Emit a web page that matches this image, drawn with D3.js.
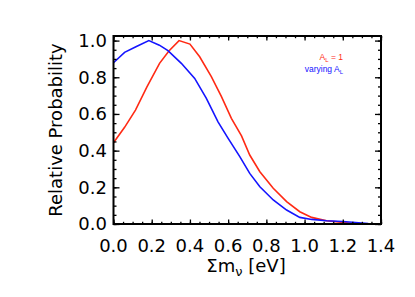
<!DOCTYPE html>
<html>
<head>
<meta charset="utf-8">
<script src="https://cdn.jsdelivr.net/npm/d3@7"></script>
<style>
  body { margin: 0; background: #fff; }
  text { font-family: "DejaVu Sans", sans-serif; fill: #000; }
  .legend { font-family: "Liberation Sans", sans-serif; }
</style>
</head>
<body>
<div id="chart"></div>
<script>
/* data */
var massRed  = [0.0, 0.058, 0.115, 0.175, 0.241, 0.29, 0.343, 0.4, 0.451, 0.512, 0.565, 0.617, 0.67, 0.713, 0.766, 0.836, 0.906, 0.975, 1.037, 1.115, 1.2, 1.27];
var probRed  = [0.443, 0.527, 0.621, 0.748, 0.876, 0.943, 1.0, 0.981, 0.912, 0.803, 0.694, 0.576, 0.48, 0.376, 0.285, 0.195, 0.122, 0.067, 0.036, 0.018, 0.009, 0.0];
var massBlue = [0.0, 0.058, 0.12, 0.185, 0.24, 0.285, 0.355, 0.425, 0.486, 0.547, 0.6, 0.661, 0.713, 0.766, 0.836, 0.906, 0.975, 1.037, 1.115, 1.2, 1.333];
var probBlue = [0.879, 0.936, 0.968, 1.0, 0.975, 0.945, 0.876, 0.794, 0.685, 0.557, 0.467, 0.367, 0.276, 0.203, 0.131, 0.076, 0.036, 0.025, 0.018, 0.014, 0.003];
var xTicks = [0, 0.2, 0.4, 0.6, 0.8, 1.0, 1.2, 1.4];
var yTicks = [0, 0.2, 0.4, 0.6, 0.8, 1.0];

/* constants */
var width = 415, height = 297;
var boxLeft = 113.5, boxRight = 381, boxTop = 36, boxBottom = 224;

var svg = d3.select("#chart").append("svg")
    .attr("width", width)
    .attr("height", height);

var x = d3.scaleLinear().domain([0, 1.4]).range([boxLeft, boxRight]);
var y = d3.scaleLinear().domain([0, 1.025]).range([boxBottom, boxTop]);

var minorX = d3.range(0, 1.4001, 0.05);
var minorY = d3.range(0, 1.0251, 0.05);

// curves first, the box goes on top
var line = d3.line()
    .x(function(d){ return x(d[0]); })
    .y(function(d){ return y(d[1]); });

svg.append("path")
    .datum(d3.zip(massRed, probRed))
    .attr("d", line)
    .attr("fill", "none")
    .attr("stroke", "#ff2a14")
    .attr("stroke-width", 1.6);

svg.append("path")
    .datum(d3.zip(massBlue, probBlue))
    .attr("d", line)
    .attr("fill", "none")
    .attr("stroke", "#1414ff")
    .attr("stroke-width", 1.6);

// axes: ticks point inward on all four sides (IDL style)
function tickAxis(axisFn, scale, vals, len, tr) {
    svg.append("g")
        .attr("transform", tr)
        .call(axisFn(scale).tickValues(vals).tickSize(len).tickFormat(""))
        .call(function(g){
            g.select(".domain").remove();
            g.selectAll("line").attr("stroke", "#000").attr("stroke-width", 1.3);
        });
}
tickAxis(d3.axisBottom, x, xTicks, -4.5, "translate(0," + boxBottom + ")");
tickAxis(d3.axisBottom, x, minorX, -2.2, "translate(0," + boxBottom + ")");
tickAxis(d3.axisTop, x, xTicks, -4.5, "translate(0," + boxTop + ")");
tickAxis(d3.axisTop, x, minorX, -2.2, "translate(0," + boxTop + ")");
tickAxis(d3.axisLeft, y, yTicks, -6, "translate(" + boxLeft + ",0)");
tickAxis(d3.axisLeft, y, minorY, -3, "translate(" + boxLeft + ",0)");
tickAxis(d3.axisRight, y, yTicks, -6, "translate(" + boxRight + ",0)");
tickAxis(d3.axisRight, y, minorY, -3, "translate(" + boxRight + ",0)");

svg.append("rect")
    .attr("x", boxLeft).attr("y", boxTop)
    .attr("width", boxRight - boxLeft).attr("height", boxBottom - boxTop)
    .attr("fill", "none")
    .attr("stroke", "#000")
    .attr("stroke-width", 2);

// tick labels
svg.append("g").selectAll("text")
    .data(xTicks)
    .enter().append("text")
    .attr("x", function(d){ return x(d); })
    .attr("y", 252)
    .attr("text-anchor", "middle")
    .attr("font-size", 18)
    .text(function(d){ return d.toFixed(1); });

svg.append("g").selectAll("text")
    .data(yTicks)
    .enter().append("text")
    .attr("x", 107)
    .attr("y", function(d){ return y(d); })
    .attr("dy", "0.36em")
    .attr("text-anchor", "end")
    .attr("font-size", 18)
    .text(function(d){ return d.toFixed(1); });

// axis titles
var xt = svg.append("text")
    .attr("x", 246)
    .attr("y", 272)
    .attr("text-anchor", "middle")
    .attr("font-size", 18);
xt.append("tspan").text("Σm");
xt.append("tspan").attr("dy", 4).attr("font-size", 13).text("ν");
xt.append("tspan").attr("dy", -4).text(" [eV]");

svg.append("text")
    .attr("transform", "translate(62,130) rotate(-90)")
    .attr("text-anchor", "middle")
    .attr("font-size", 18)
    .text("Relative Probability");

// legend
var l1 = svg.append("text")
    .attr("class", "legend")
    .attr("x", 343).attr("y", 60)
    .attr("text-anchor", "end")
    .attr("font-size", 8.5)
    .style("fill", "#ff2a14");
l1.append("tspan").text("A");
l1.append("tspan").attr("dy", 2).attr("font-size", 6).text("L");
l1.append("tspan").attr("dy", -2).text(" = 1");

var l2 = svg.append("text")
    .attr("class", "legend")
    .attr("x", 343).attr("y", 71.5)
    .attr("text-anchor", "end")
    .attr("font-size", 8.5)
    .style("fill", "#1414ff");
l2.append("tspan").text("varying  A");
l2.append("tspan").attr("dy", 2).attr("font-size", 6).text("L");
</script>
</body>
</html>
